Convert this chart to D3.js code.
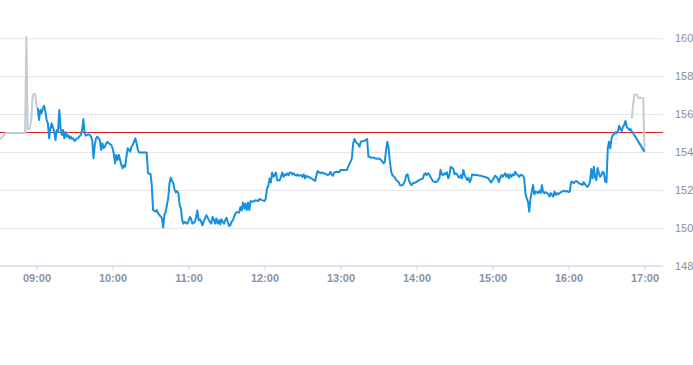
<!DOCTYPE html>
<html>
<head>
<meta charset="utf-8">
<script src="https://cdn.jsdelivr.net/npm/d3@7"></script>
<style>
  html, body { margin: 0; padding: 0; background: #fff; }
  svg { display: block; }
</style>
</head>
<body>
<svg id="chart" width="693" height="365"></svg>
<script>
// ---- Data ----
const tradeDay = "2024-01-02";
const prevClose = 155;
const yTickValues = [148, 150, 152, 154, 156, 158, 160];
const xTickLabels = ["09:00","10:00","11:00","12:00","13:00","14:00","15:00","16:00","17:00"];

const preMarket = [
  ["08:30",154.60],["08:36",155.00],["08:50",155.00],["08:51",155.00],["08:52",160.08],["08:53",155.20],
  ["08:54",155.20],["08:55",155.35],["08:56",155.80],["08:57",157.00],["08:58",157.06],["08:59",157.06],
  ["09:00",156.40],["09:01",156.31]
];

const session = [
  ["09:01",156.31],["09:02",155.69],["09:03",156.22],["09:04",156.04],["09:05",156.31],["09:06",156.44],["09:07",156.13],["09:08",155.69],["09:09",155.51],["09:10",154.72],
  ["09:11",155.25],["09:12",155.51],["09:14",155.07],["09:15",154.63],["09:16",155.16],["09:17",155.07],["09:18",156.22],["09:19",155.25],["09:20",154.90],["09:21",155.16],
  ["09:22",154.72],["09:23",155.04],["09:24",154.81],["09:25",154.90],["09:26",154.72],["09:27",154.81],["09:28",154.69],["09:29",154.72],["09:30",154.58],["09:32",154.72],
  ["09:33",154.75],["09:35",154.90],["09:36",155.16],["09:37",155.74],["09:38",154.99],["09:39",154.86],["09:41",154.93],["09:42",154.90],["09:43",154.81],["09:44",154.63],
  ["09:45",153.67],["09:46",154.37],["09:47",154.72],["09:48",154.81],["09:50",154.63],["09:51",154.11],["09:52",154.46],["09:53",154.20],["09:54",154.28],["09:55",154.46],
  ["09:56",154.54],["09:57",154.46],["09:59",154.37],
  ["10:00",154.20],["10:01",153.93],["10:02",153.40],["10:03",153.84],["10:04",153.58],["10:05",153.84],["10:06",153.58],["10:07",153.31],["10:08",153.14],["10:09",153.31],
  ["10:10",153.22],["10:11",153.75],["10:12",154.20],["10:14",154.02],["10:15",154.28],["10:16",154.37],["10:17",154.54],["10:18",154.72],["10:19",154.46],["10:20",154.11],
  ["10:21",153.98],["10:22",153.98],["10:27",153.98],["10:28",152.88],["10:30",152.84],["10:31",152.26],["10:32",150.94],["10:34",150.85],["10:35",150.94],["10:36",150.76],
  ["10:37",150.68],["10:39",150.51],["10:40",150.01],["10:41",150.68],["10:42",150.85],["10:44",151.56],["10:45",152.35],["10:46",152.64],["10:47",152.47],["10:48",152.35],
  ["10:49",152.00],["10:50",151.87],["10:51",151.94],["10:52",151.82],["10:53",151.21],["10:54",151.03],["10:55",150.42],["10:56",150.22],["10:57",150.31],["10:59",150.22],
  ["11:00",150.34],["11:01",150.57],["11:02",150.49],["11:03",150.22],["11:05",150.31],["11:06",150.57],["11:07",150.92],["11:08",150.40],["11:09",150.45],["11:10",150.31],
  ["11:11",150.13],["11:12",150.34],["11:13",150.49],["11:14",150.66],["11:15",150.57],["11:16",150.40],["11:18",150.22],["11:19",150.57],["11:20",150.45],["11:21",150.22],
  ["11:22",150.49],["11:23",150.22],["11:24",150.40],["11:25",150.17],["11:26",150.45],["11:27",150.31],["11:28",150.22],["11:29",150.40],["11:30",150.53],["11:31",150.31],
  ["11:32",150.10],["11:33",150.13],["11:34",150.31],["11:35",150.40],["11:36",150.57],["11:37",150.75],["11:38",150.83],["11:40",150.80],["11:41",151.10],["11:42",150.92],
  ["11:43",151.33],["11:44",151.01],["11:45",151.28],["11:46",150.94],["11:47",151.33],["11:48",150.94],["11:49",151.41],["11:50",151.37],["11:52",151.41],["11:53",151.46],
  ["11:55",151.41],["11:56",151.52],["11:58",151.46],
  ["12:00",151.41],["12:01",151.55],["12:02",152.08],["12:03",152.21],["12:04",152.60],["12:05",152.39],["12:06",152.92],["12:07",152.69],["12:08",152.78],["12:09",152.92],
  ["12:10",152.51],["12:12",152.51],["12:13",152.69],["12:14",152.92],["12:15",152.69],["12:16",152.82],["12:17",152.78],["12:18",152.88],["12:19",152.78],["12:20",152.92],
  ["12:21",152.92],["12:22",152.82],["12:23",152.88],["12:24",152.78],["12:25",152.75],["12:26",152.82],["12:27",152.75],["12:29",152.78],["12:30",152.69],["12:31",152.82],
  ["12:32",152.61],["12:33",152.75],["12:34",152.69],["12:35",152.69],["12:36",152.64],["12:37",152.61],["12:39",152.52],["12:40",152.47],["12:41",152.78],["12:42",152.99],
  ["12:43",152.93],["12:44",152.88],["12:45",152.93],["12:46",152.88],["12:47",152.88],["12:49",152.82],["12:50",152.78],["12:51",152.82],["12:52",152.96],["12:53",152.82],
  ["12:54",152.75],["12:55",152.93],["12:56",152.93],["12:57",152.96],["12:59",152.93],
  ["13:00",153.05],["13:02",153.05],["13:04",153.05],["13:05",153.05],["13:06",153.22],["13:08",153.49],["13:09",153.67],["13:10",154.46],["13:11",154.69],["13:12",154.54],
  ["13:13",154.46],["13:14",154.41],["13:15",154.28],["13:16",154.54],["13:18",154.58],["13:20",154.63],["13:21",154.69],["13:22",153.75],["13:23",153.75],["13:24",153.70],
  ["13:26",153.70],["13:27",153.67],["13:29",153.64],["13:31",153.64],["13:32",153.58],["13:33",153.49],["13:34",153.40],["13:35",153.49],["13:36",154.11],["13:37",154.54],
  ["13:38",154.20],["13:39",153.49],["13:40",152.96],["13:41",152.78],["13:43",152.64],["13:44",152.52],["13:46",152.40],["13:47",152.25],["13:49",152.25],["13:50",152.34],
  ["13:51",152.52],["13:52",152.78],["13:53",152.82],["13:54",152.52],["13:55",152.34],["13:56",152.25],["13:57",152.34],["13:59",152.39],
  ["14:01",152.46],["14:02",152.52],["14:04",152.57],["14:05",152.61],["14:06",152.82],["14:07",152.88],["14:08",152.78],["14:09",152.88],["14:10",152.82],["14:11",152.69],
  ["14:12",152.57],["14:13",152.46],["14:15",152.42],["14:16",152.42],["14:18",152.61],["14:19",153.05],["14:20",152.82],["14:21",152.78],["14:22",152.88],["14:23",152.82],
  ["14:24",152.93],["14:25",152.61],["14:26",152.78],["14:27",153.22],["14:28",153.16],["14:29",153.13],["14:30",152.82],["14:31",152.88],["14:32",152.82],["14:33",152.69],
  ["14:34",152.64],["14:35",152.78],["14:36",152.61],["14:37",153.05],["14:38",152.78],["14:40",152.52],["14:41",152.64],["14:42",152.40],["14:43",152.57],["14:44",152.82],
  ["14:45",152.78],["14:46",152.78],["14:48",152.78],["14:50",152.75],["14:51",152.75],["14:53",152.69],["14:54",152.69],["14:56",152.64],["14:57",152.57],["14:58",152.46],
  ["14:59",152.39],
  ["15:00",152.52],["15:01",152.61],["15:02",152.75],["15:03",152.69],["15:04",152.61],["15:05",152.40],["15:06",152.61],["15:07",152.78],["15:08",152.69],["15:10",152.88],
  ["15:11",152.69],["15:12",152.82],["15:13",152.61],["15:14",152.82],["15:15",152.69],["15:16",152.82],["15:17",152.78],["15:18",152.96],["15:19",152.82],["15:20",152.78],
  ["15:21",152.69],["15:22",152.78],["15:23",152.78],["15:24",152.75],["15:25",152.61],["15:26",151.82],["15:27",151.55],["15:28",151.38],["15:29",150.85],["15:30",151.55],
  ["15:31",151.90],["15:32",152.26],["15:33",151.77],["15:34",151.91],["15:35",151.88],["15:36",151.83],["15:37",151.95],["15:38",151.83],["15:39",152.26],["15:40",151.88],
  ["15:41",151.83],["15:42",151.88],["15:43",151.83],["15:44",151.77],["15:45",151.65],["15:46",151.83],["15:48",151.65],["15:49",151.91],["15:50",151.74],["15:51",151.83],
  ["15:52",151.77],["15:53",151.83],["15:54",151.88],["15:55",151.91],["15:56",151.95],["15:57",151.95],["15:58",151.91],["15:59",151.95],
  ["16:00",151.88],["16:01",151.91],["16:02",152.41],["16:03",152.44],["16:04",152.35],["16:05",152.41],["16:06",152.47],["16:07",152.44],["16:08",152.35],["16:10",152.30],
  ["16:11",152.26],["16:12",152.41],["16:13",152.30],["16:14",152.22],["16:15",152.16],["16:16",152.26],["16:17",152.44],["16:18",153.10],["16:19",152.61],["16:20",153.22],
  ["16:21",152.68],["16:22",152.52],["16:23",153.16],["16:24",152.88],["16:25",152.69],["16:26",152.78],["16:27",152.96],["16:28",152.88],["16:29",152.44],["16:30",152.40],
  ["16:31",154.20],["16:32",154.54],["16:33",154.20],["16:34",154.72],["16:35",154.90],["16:36",154.93],["16:37",155.04],["16:38",154.99],["16:39",155.11],["16:40",155.39],
  ["16:41",155.21],["16:42",155.11],["16:43",155.33],["16:44",155.43],["16:45",155.64],["16:46",155.33],["16:47",155.25],["16:48",155.16],["16:49",155.21],["16:50",155.07],
  ["16:51",155.00],["17:00",154.02]
];

const postMarket = [
  ["16:50",155.78],["16:51",156.48],["16:52",157.04],["16:54",157.04],["16:55",156.86],["16:57",156.86],
  ["16:59",156.83],["17:00",154.02]
];

// ---- Chart ----
const plotLeft = 0, plotRight = 663, plotBottom = 265.7;
const parse = d3.timeParse("%Y-%m-%d %H:%M");
const T = s => parse(tradeDay + " " + s);

const x = d3.scaleTime()
  .domain([T("08:30"), T("17:15")])
  .range([-1.5, 663.5]);
const y = d3.scaleLinear()
  .domain([148, 160])
  .range([plotBottom, 38.3]);

const svg = d3.select("#chart");
const font = "'Liberation Sans', Arial, Helvetica, sans-serif";

// Grid + right axis labels
const yAxis = d3.axisRight(y)
  .tickValues(yTickValues)
  .tickSize(-(plotRight - plotLeft))
  .tickPadding(12)
  .tickFormat(d3.format("d"));
const gy = svg.append("g").attr("transform", `translate(${plotRight},0)`).call(yAxis);
gy.select(".domain").remove();
gy.selectAll(".tick line").attr("stroke", "#e6e6e6").attr("stroke-width", 1);
gy.selectAll(".tick text")
  .attr("fill", "#8c8f96")
  .style("font-family", font)
  .style("font-size", "11px");

// X axis
const xAxis = d3.axisBottom(x)
  .tickValues(xTickLabels.map(T))
  .tickFormat(d3.timeFormat("%H:%M"))
  .tickSize(5)
  .tickSizeOuter(0)
  .tickPadding(4);
const gx = svg.append("g").attr("transform", `translate(0,${plotBottom})`).call(xAxis);
gx.select(".domain").attr("stroke", "#ccd6eb").attr("d", `M${plotLeft},0.5H${plotRight}`);
gx.selectAll(".tick line").attr("stroke", "#ccd6eb");
gx.selectAll(".tick text")
  .attr("fill", "#8794a6")
  .style("font-family", font)
  .style("font-size", "11px")
  .style("font-weight", "bold");

// Previous close line
const closeY = Math.floor(y(prevClose)) - 0.5;
svg.append("line")
  .attr("x1", plotLeft).attr("x2", plotRight)
  .attr("y1", closeY).attr("y2", closeY)
  .attr("stroke", "#d62828").attr("stroke-width", 1);

const line = d3.line()
  .x(d => x(T(d[0])))
  .y(d => y(d[1]));

svg.append("path").datum(preMarket)
  .attr("d", line).attr("fill", "none")
  .attr("stroke", "#c3cbd3").attr("stroke-width", 2).attr("stroke-linejoin", "round");
svg.append("path").datum(postMarket)
  .attr("d", line).attr("fill", "none")
  .attr("stroke", "#c3cbd3").attr("stroke-width", 2).attr("stroke-linejoin", "round");
svg.append("path").datum(session)
  .attr("d", line).attr("fill", "none")
  .attr("stroke", "#1690df").attr("stroke-width", 2).attr("stroke-linejoin", "round");
</script>
</body>
</html>
